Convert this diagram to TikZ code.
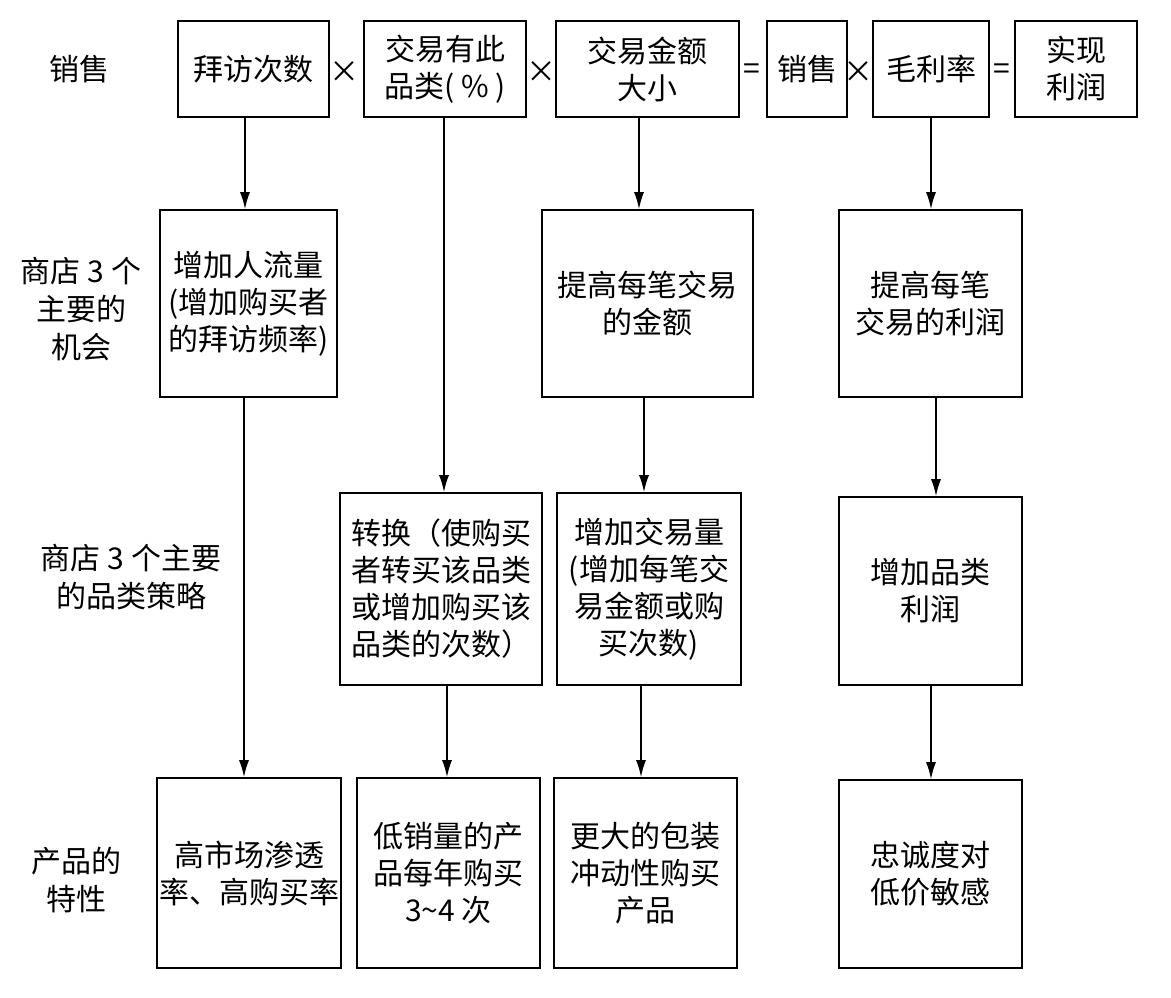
\documentclass[tikz,border=0pt]{standalone}
\usepackage{fontspec}
\setmainfont{Noto Sans CJK SC}
\usetikzlibrary{arrows.meta}
\tikzset{
  catstage/.style={
    draw,
    line width=1.6pt,
    align=center,
    inner sep=0pt,
    font=\fontsize{30}{37}\selectfont
  },
  catterm/.style={catstage,minimum height=96pt},
  catopp/.style={catstage,minimum height=187pt},
  catstrat/.style={catstage,minimum height=192pt},
  catchar/.style={catstage,minimum height=190pt},
  catsym/.style={inner sep=0pt,font=\fontsize{30}{37}\selectfont},
  catlabel/.style={align=center,inner sep=0pt,font=\fontsize{30}{38}\selectfont},
  catflow/.style={-{Latex[length=17pt,width=10pt]},line width=1.6pt}
}
\begin{document}
\begin{tikzpicture}[x=1pt,y=-1pt]
  \useasboundingbox (0,0) rectangle (1171,997);

  % row labels
  \node[catlabel] (lblsales) at (79,69) {销售};
  \node[catlabel] (lblopp) at (81,309) {商店 3 个\\主要的\\机会};
  \node[catlabel] (lblstrat) at (131,577) {商店 3 个主要\\的品类策略};
  \node[catlabel] (lblchar) at (76,880) {产品的\\特性};

  % equation row
  \node[catterm,minimum width=151pt] (visits) at (253.5,69) {拜访次数};
  \node[catsym] (times1) at (344,72) {×};
  \node[catterm,minimum width=162pt] (share) at (445,69) {交易有此\\品类( \% )};
  \node[catsym] (times2) at (541.5,72) {×};
  \node[catterm,minimum width=183pt] (size) at (647.5,69) {交易金额\\大小};
  \node[catsym] (equals1) at (752,72) {=};
  \node[catterm,minimum width=80pt] (sales) at (807,69) {销售};
  \node[catsym] (times3) at (858,72) {×};
  \node[catterm,minimum width=116pt] (margin) at (931,69) {毛利率};
  \node[catsym] (equals2) at (1002,72) {=};
  \node[catterm,minimum width=122pt] (profit) at (1076,69) {实现\\利润};

  % opportunities
  \node[catopp,minimum width=177pt] (traffic) at (248.5,303.5)
    {增加人流量\\(增加购买者\\的拜访频率)};
  \node[catopp,minimum width=211pt] (amount) at (647.5,303.5)
    {提高每笔交易\\的金额};
  \node[catopp,minimum width=183pt] (unitprofit) at (930.5,303.5)
    {提高每笔\\交易的利润};

  % category strategies
  \node[catstrat,minimum width=202pt] (conv) at (441,589)
    {转换（使购买\\者转买该品类\\或增加购买该\\品类的次数）};
  \node[catstrat,minimum width=184pt] (vol) at (649,589)
    {增加交易量\\(增加每笔交\\易金额或购\\买次数)};
  \node[catstrat,minimum width=183pt,minimum height=188pt] (catprofit) at (930.5,591)
    {增加品类\\利润};

  % product characteristics
  \node[catchar,minimum width=184pt] (char1) at (249,873)
    {高市场渗透\\率、高购买率};
  \node[catchar,minimum width=183pt] (char2) at (448.5,873)
    {低销量的产\\品每年购买\\3\textasciitilde 4 次};
  \node[catchar,minimum width=183pt] (char3) at (645.5,873)
    {更大的包装\\冲动性购买\\产品};
  \node[catchar,minimum width=183pt,minimum height=188pt] (char4) at (930.5,874)
    {忠诚度对\\低价敏感};

  % connectors
  \draw[catflow] ([xshift=-8.5pt]visits.south) -- ([xshift=-8.5pt]visits.south |- traffic.north);
  \draw[catflow] ([xshift=-1pt]share.south) -- ([xshift=-1pt]share.south |- conv.north);
  \draw[catflow] ([xshift=-8.5pt]size.south) -- ([xshift=-8.5pt]size.south |- amount.north);
  \draw[catflow] (margin.south) -- (margin.south |- unitprofit.north);
  \draw[catflow] ([xshift=-4.5pt]traffic.south) -- ([xshift=-4.5pt]traffic.south |- char1.north);
  \draw[catflow] ([xshift=-3.5pt]amount.south) -- ([xshift=-3.5pt]amount.south |- vol.north);
  \draw[catflow] ([xshift=5.5pt]unitprofit.south) -- ([xshift=5.5pt]unitprofit.south |- catprofit.north);
  \draw[catflow] ([xshift=6pt]conv.south) -- ([xshift=6pt]conv.south |- char2.north);
  \draw[catflow] ([xshift=-8pt]vol.south) -- ([xshift=-8pt]vol.south |- char3.north);
  \draw[catflow] ([xshift=0.5pt]catprofit.south) -- ([xshift=0.5pt]catprofit.south |- char4.north);
\end{tikzpicture}
\end{document}
